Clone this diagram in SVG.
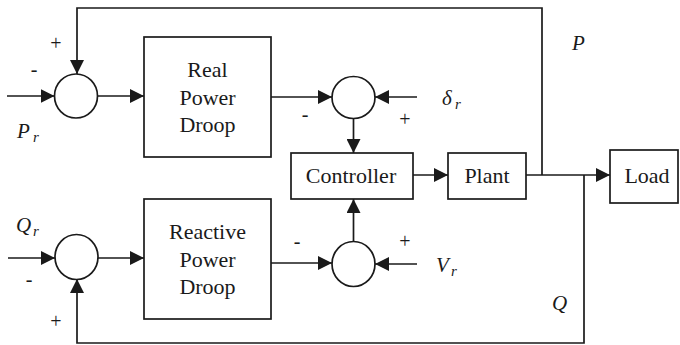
<svg xmlns="http://www.w3.org/2000/svg" width="680" height="345" viewBox="0 0 680 345">
<style>
.box{fill:#fff;stroke:#1a1a1a;stroke-width:1.7}
.sum{fill:#fff;stroke:#1a1a1a;stroke-width:1.7}
.ln{fill:none;stroke:#1a1a1a;stroke-width:1.7}
text{fill:#1a1a1a}
.t{font-size:22px;text-anchor:middle}
.v{font-size:21px;font-style:italic}
.s{font-size:15px;font-style:italic}
.sg{font-size:20px;text-anchor:middle}
</style>
<defs>
<marker id="ah" viewBox="0 0 14 14" refX="14" refY="7" markerWidth="14" markerHeight="14" markerUnits="userSpaceOnUse" orient="auto">
<path d="M0,0 L14,7 L0,14 z" fill="#1a1a1a"/>
</marker>
</defs>
<g id="connectors">
<path class="ln" d="M7,96 H54.5" marker-end="url(#ah)"/>
<path class="ln" d="M97.5,96 H144" marker-end="url(#ah)"/>
<path class="ln" d="M271,97 H332" marker-end="url(#ah)"/>
<path class="ln" d="M417,97 H375" marker-end="url(#ah)"/>
<path class="ln" d="M353.5,119 V153" marker-end="url(#ah)"/>
<path class="ln" d="M413,175 H448" marker-end="url(#ah)"/>
<path class="ln" d="M526,175 H610" marker-end="url(#ah)"/>
<path class="ln" d="M542,175 V8 H77 V74" marker-end="url(#ah)"/>
<path class="ln" d="M584,175 V343 H77 V279" marker-end="url(#ah)"/>
<path class="ln" d="M8,258 H55" marker-end="url(#ah)"/>
<path class="ln" d="M98,258 H144" marker-end="url(#ah)"/>
<path class="ln" d="M271,263 H332" marker-end="url(#ah)"/>
<path class="ln" d="M417,264 H375" marker-end="url(#ah)"/>
<path class="ln" d="M353.5,242 V199" marker-end="url(#ah)"/>
</g>
<g font-family="Liberation Serif, Times New Roman, serif">
<g id="sum1"><ellipse class="sum" cx="76" cy="96" rx="21.5" ry="22"/>
<text class="sg" x="56" y="50">+</text><text class="sg" x="34" y="76">-</text></g>
<g id="sum2"><ellipse class="sum" cx="353.5" cy="97.5" rx="21.5" ry="21"/>
<text class="sg" x="305" y="121">-</text><text class="sg" x="405" y="126">+</text></g>
<g id="sum3"><ellipse class="sum" cx="76.5" cy="257" rx="21.5" ry="22.5"/>
<text class="sg" x="29" y="286">-</text><text class="sg" x="56" y="328">+</text></g>
<g id="sum4"><ellipse class="sum" cx="353.5" cy="264" rx="21.5" ry="22.5"/>
<text class="sg" x="297" y="248">-</text><text class="sg" x="405" y="248">+</text></g>
<g id="real"><rect class="box" x="144" y="37" width="127" height="120"/>
<text class="t" x="207.5" y="77">Real</text><text class="t" x="207.5" y="105">Power</text><text class="t" x="207.5" y="132">Droop</text></g>
<g id="reactive"><rect class="box" x="144" y="199" width="127" height="120"/>
<text class="t" x="207.5" y="239">Reactive</text><text class="t" x="207.5" y="267">Power</text><text class="t" x="207.5" y="294">Droop</text></g>
<g id="controller"><rect class="box" x="291" y="153" width="122" height="46"/>
<text class="t" x="351" y="183">Controller</text></g>
<g id="plant"><rect class="box" x="448" y="153" width="78" height="46"/>
<text class="t" x="487" y="183">Plant</text></g>
<g id="load"><rect class="box" x="610" y="150" width="68" height="53"/>
<text class="t" x="647" y="183">Load</text></g>
<g id="labels">
<text class="v" x="17" y="138">P</text><text class="s" x="33" y="142">r</text>
<text class="v" x="16" y="232">Q</text><text class="s" x="33" y="236">r</text>
<text class="v" x="442" y="105">δ</text><text class="s" x="455" y="109">r</text>
<text class="v" x="436" y="272">V</text><text class="s" x="451" y="276">r</text>
<text class="v" x="572" y="50">P</text>
<text class="v" x="552" y="310">Q</text>
</g>
</g>
</svg>
